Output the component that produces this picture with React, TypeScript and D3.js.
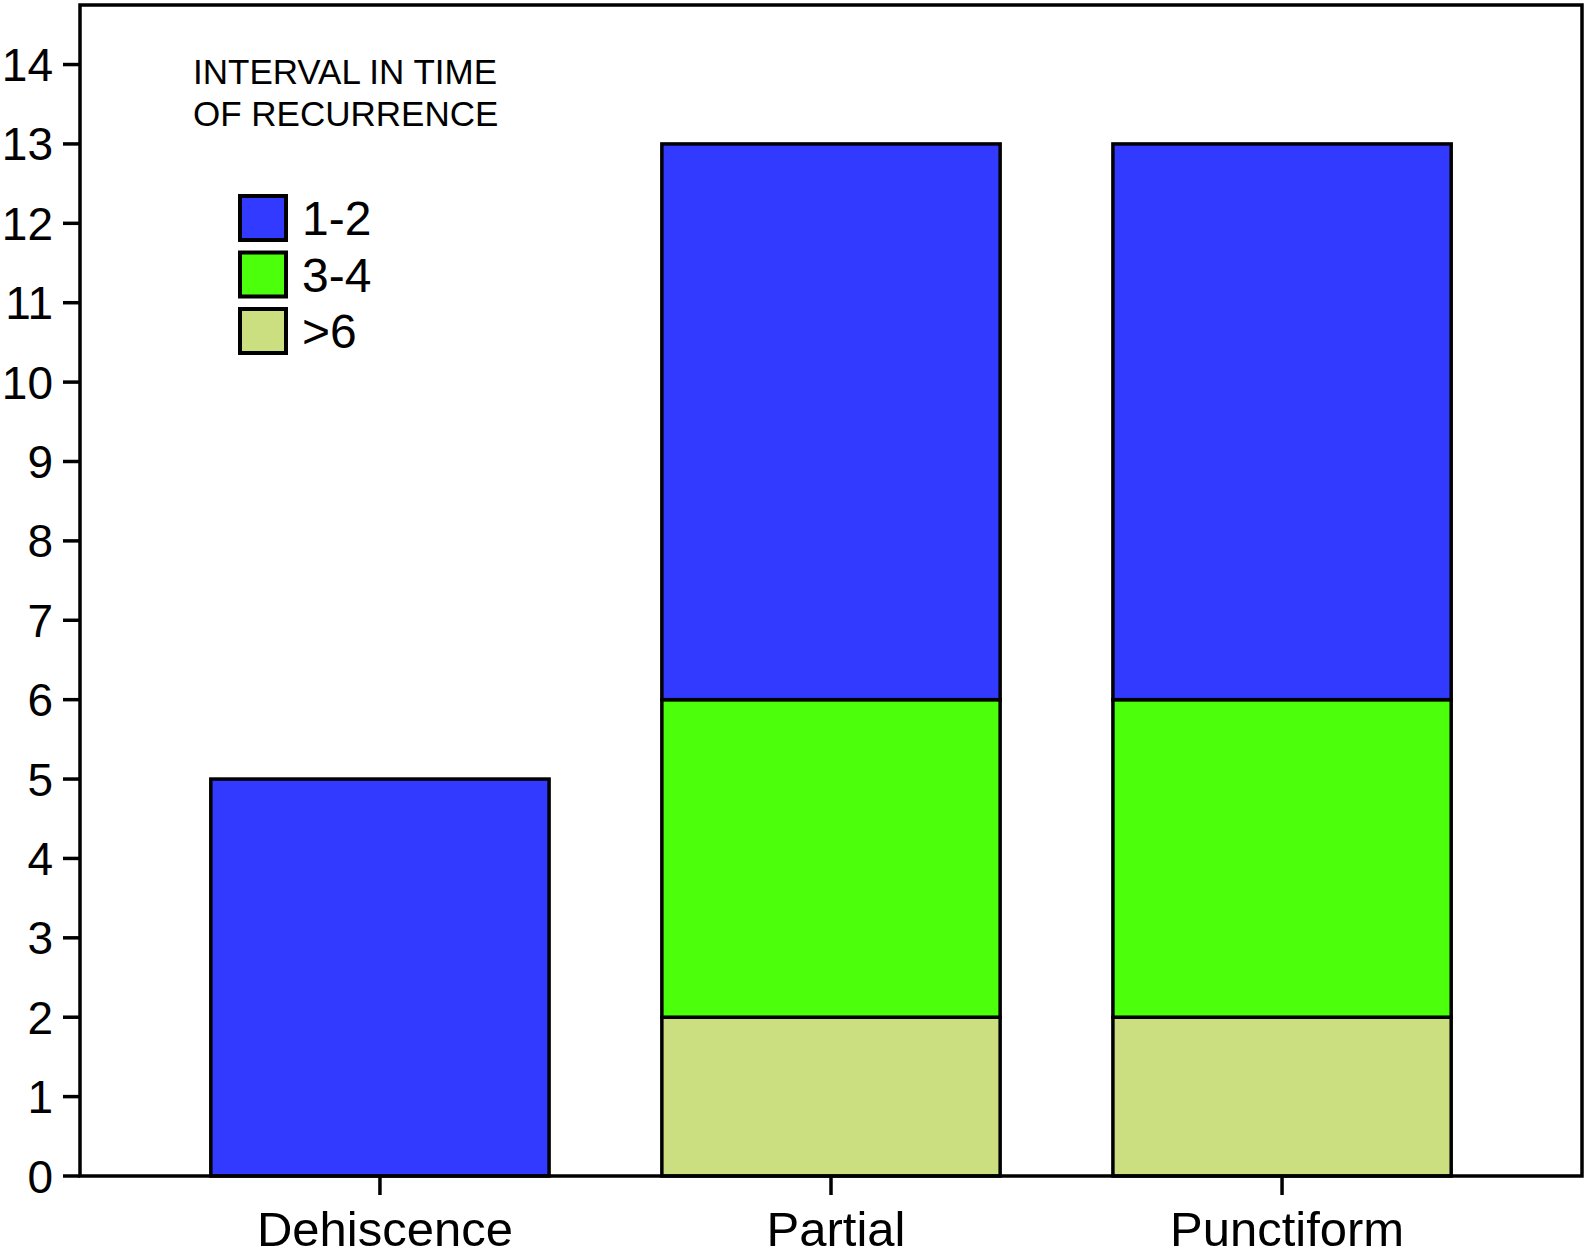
import React from "react";
import * as d3 from "d3";

const categories = ["Dehiscence", "Partial", "Punctiform"];
const seriesKeys = ["1-2", "3-4", ">6"]; // legend order
const stackOrder = [">6", "3-4", "1-2"]; // bottom to top
const values12 = [5, 7, 7];
const values34 = [0, 4, 4];
const valuesGt6 = [0, 2, 2];
const yTicks = d3.range(0, 15);
const legendTitle = ["INTERVAL IN TIME", "OF RECURRENCE"];
const colors: Record<string, string> = { "1-2": "#333AFF", "3-4": "#4CFF0B", ">6": "#CBDF80" };

const W = 1590;
const H = 1257;
const FONT = "'Liberation Sans', Arial, Helvetica, sans-serif";

export default function App() {
  const rows = categories.map((c, i) => ({
    category: c,
    "1-2": values12[i],
    "3-4": values34[i],
    ">6": valuesGt6[i],
  }));
  const stacked = d3.stack<any>().keys(stackOrder)(rows);

  const left = 80, right = 1582, top = 5, bottom = 1176;
  const x = d3.scaleBand<string>().domain(categories).range([left, right]).paddingInner(0.25).paddingOuter(0.29);
  const y = d3.scaleLinear().domain([0, 14.75]).range([bottom, top]);

  const legendY = d3.scalePoint<string>().domain(seriesKeys).range([196, 309]);

  return (
    <svg width={W} height={H} style={{ position: "absolute", left: 0, top: 0, display: "block", background: "#fff" }} fontFamily={FONT}>
      <rect x={0} y={0} width={W} height={H} fill="#fff" />
      {/* bars */}
      {stacked.map((layer) =>
        layer.map((d, i) => {
          const h = y(d[0]) - y(d[1]);
          if (h <= 0) return null;
          return (
            <rect
              key={layer.key + i}
              x={x(categories[i])}
              y={y(d[1])}
              width={x.bandwidth()}
              height={h}
              fill={colors[layer.key]}
              stroke="#000"
              strokeWidth={3.5}
            />
          );
        })
      )}
      {/* frame */}
      <rect x={left} y={top} width={right - left} height={bottom - top} fill="none" stroke="#000" strokeWidth={3.5} />
      {/* y ticks */}
      {yTicks.map((t) => (
        <g key={t}>
          <line x1={63} x2={left} y1={y(t)} y2={y(t)} stroke="#000" strokeWidth={3.5} />
          <text x={53} y={y(t)} dy="0.36em" textAnchor="end" fontSize={46} fill="#000">
            {t}
          </text>
        </g>
      ))}
      {/* x ticks */}
      {categories.map((c) => {
        const cx = (x(c) as number) + x.bandwidth() / 2;
        return (
          <g key={c}>
            <line x1={cx} x2={cx} y1={bottom} y2={bottom + 19} stroke="#000" strokeWidth={3.5} />
            <text x={cx + 5} y={1246} textAnchor="middle" fontSize={49} fill="#000">
              {c}
            </text>
          </g>
        );
      })}
      {/* legend */}
      {legendTitle.map((t, i) => (
        <text key={t} x={193} y={84 + i * 42} fontSize={35} fill="#000">
          {t}
        </text>
      ))}
      {seriesKeys.map((k) => {
        const yy = legendY(k) as number;
        return (
          <g key={k}>
            <rect x={240} y={yy} width={46} height={44} fill={colors[k]} stroke="#000" strokeWidth={4} />
            <text x={302} y={yy + 22} dy="0.36em" fontSize={48} fill="#000">
              {k}
            </text>
          </g>
        );
      })}
    </svg>
  );
}
